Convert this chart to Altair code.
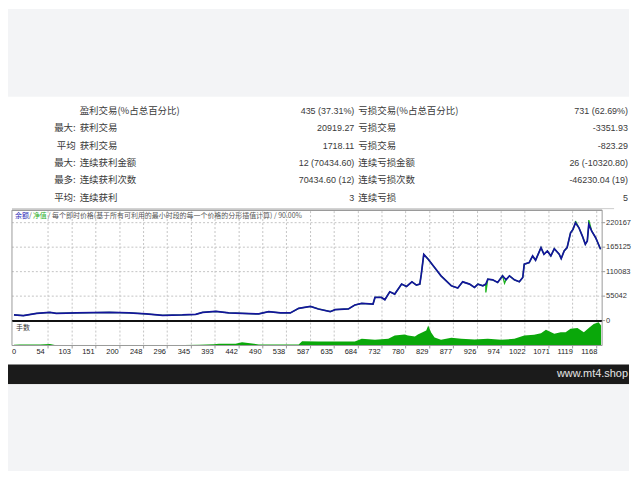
import altair as alt
import pandas as pd

CJK = "Noto Sans CJK SC"
LAT = "Liberation Sans"

# ---------------- data ----------------
row_prefix = ["", "最大:", "平均", "最大:", "最多:", "平均:"]
left_labels = ["盈利交易(%占总百分比)", "获利交易", "获利交易", "连续获利金额", "连续获利次数", "连续获利"]
left_values = ["435 (37.31%)", "20919.27", "1718.11", "12 (70434.60)", "70434.60 (12)", "3"]
right_labels = ["亏损交易(%占总百分比)", "亏损交易", "亏损交易", "连续亏损金额", "连续亏损次数", "连续亏损"]
right_values = ["731 (62.69%)", "-3351.93", "-823.29", "26 (-10320.80)", "-46230.04 (19)", "5"]

balance_t = [0, 19, 46, 73, 86, 127, 194, 234, 268, 302,
             342, 369, 383, 410, 436, 497, 517, 541, 561, 578,
             602, 618, 642, 652, 679, 692, 706, 729, 733, 746,
             753, 763, 773, 787, 797, 808, 817, 824, 827, 832,
             841, 854, 867, 888, 901, 911, 925, 935, 942, 952,
             958, 962, 972, 982, 992, 999, 1006, 1016, 1026, 1033,
             1036, 1046, 1053, 1059, 1070, 1076, 1083, 1090, 1097, 1107,
             1111, 1117, 1123, 1130, 1135, 1140, 1147, 1154, 1160, 1164,
             1167, 1173, 1181, 1191]
balance_v = [12700, 11200, 16400, 18600, 16400, 17200, 18600, 17200, 15000, 11900,
             12700, 14100, 18600, 20800, 17200, 15000, 20100, 17200, 17200, 27500,
             32000, 26200, 20100, 24600, 26200, 35100, 38700, 37300, 52100, 52100,
             47000, 64900, 59700, 82100, 76700, 87200, 79800, 82000, 104400, 149000,
             138000, 119300, 100700, 78300, 73100, 87200, 82100, 74500, 82100, 78300,
             82100, 93300, 91700, 85700, 100700, 91700, 100700, 91700, 87200, 96900,
             126800, 130400, 145400, 135800, 164000, 149200, 156600, 145400, 161700, 149200,
             139400, 156600, 164000, 197500, 205100, 220000, 208700, 190100, 171600, 179000,
             216300, 201300, 186400, 160400]

# equity (净值) differs from balance only at a few visible spikes
equity_spike_t = [958, 996, 1140, 1167]
equity_spike_v = [63300, 84000, 224000, 226000]

volume_t = [0, 12, 53, 73, 83, 93, 174, 255, 315, 376,
            406, 416, 450, 463, 497, 578, 585, 618, 692, 706,
            733, 760, 773, 793, 800, 814, 820, 837, 841, 847,
            854, 867, 888, 908, 935, 962, 989, 1016, 1036, 1056,
            1070, 1080, 1097, 1110, 1120, 1130, 1144, 1157, 1167, 1177,
            1187, 1192]
volume_v = [0.8, 1.0, 1.0, 1.5, 0.5, 0.2, 0.3, 0.5, 0.3, 0.8,
            1.2, 1.7, 1.7, 3.3, 1.0, 1.0, 4.3, 4.0, 4.0, 6.7,
            5.7, 6.7, 10, 11, 10, 9, 11, 15, 20, 13,
            8, 5.7, 7.7, 6.7, 6, 6.7, 5.7, 6.7, 10, 10.7,
            12.3, 15.7, 11.7, 13.3, 13.3, 16.7, 17.7, 13.3, 17.7, 21.7,
            23.3, 20]

x_ticks = [0, 54, 103, 151, 200, 248, 296, 345, 393, 442, 490, 538, 587,
           635, 684, 732, 780, 829, 877, 926, 974, 1022, 1071, 1119, 1168]
y_ticks = [0, 55042, 110083, 165125, 220167]

title_parts = ["余额", "/", "净值", "/ 每个即时价格(基于所有可利用的最小时段的每一个价格的分形插值计算) / 90.00%"]
volume_label = "手数"
footer_text = "www.mt4.shop"

# ---------------- layout constants ----------------
W = 624
H_TOP_GAP = 88
H_TABLE = 113
H_EQ = 112
H_VOL = 44
H_FOOT = 20
H_BOTTOM = 87
RIGHT = 597   # right frame of the chart panels (plot coords)
LEFT = 4      # left frame

X_MIN, X_MAX = -12.12, 1248.7
GRID = "#c4c4c4"
FRAME = "#9a9a9a"
GRAY_BG = "#f3f4f6"
TXT = "#3a3a3a"

one = pd.DataFrame({"k": [0]})


def fill_rect(h, color):
    return alt.Chart(one).mark_rect(color=color).encode(
        x=alt.value(0), x2=alt.value(W), y=alt.value(0), y2=alt.value(h)
    ).properties(width=W, height=h)


# ---------------- table ----------------
tbl = pd.DataFrame({
    "row": list(range(len(left_labels))),
    "prefix": row_prefix,
    "llabel": left_labels,
    "lval": left_values,
    "rlabel": right_labels,
    "rval": right_values,
})
row_scale = alt.Scale(domain=[0, 5], range=[14, 101.7])
tb = alt.Chart(tbl)
ry = alt.Y("row:Q", scale=row_scale, axis=None)
table = alt.layer(
    tb.mark_text(align="right", baseline="middle", font=CJK, fontSize=9.5, color=TXT).encode(
        x=alt.value(68), y=ry, text="prefix:N"),
    tb.mark_text(align="left", baseline="middle", font=CJK, fontSize=9.5, color=TXT).encode(
        x=alt.value(72), y=ry, text="llabel:N"),
    tb.mark_text(align="right", baseline="middle", font=LAT, fontSize=9, color=TXT).encode(
        x=alt.value(348), y=ry, text="lval:N"),
    tb.mark_text(align="left", baseline="middle", font=CJK, fontSize=9.5, color=TXT).encode(
        x=alt.value(352), y=ry, text="rlabel:N"),
    tb.mark_text(align="right", baseline="middle", font=LAT, fontSize=9, color=TXT).encode(
        x=alt.value(623), y=ry, text="rval:N"),
    alt.Chart(one).mark_rule(color="#cccccc", strokeWidth=1).encode(
        x=alt.value(LEFT), x2=alt.value(609), y=alt.value(112.5)),
).properties(width=W, height=H_TABLE)

# ---------------- scales / frames ----------------
xs = alt.Scale(domain=[X_MIN, X_MAX], nice=False, zero=False)
ys_top = alt.Scale(domain=[0, 250600], nice=False, zero=False)
ys_vol = alt.Scale(domain=[-19, 25], nice=False, zero=False)

xtick_df = pd.DataFrame({"t": x_ticks, "lab": [str(t) for t in x_ticks]})
grid_x_df = pd.DataFrame({"t": [t for t in x_ticks if t > 0]})
ytick_df = pd.DataFrame({"v": y_ticks, "lab": [str(v) for v in y_ticks]})
grid_y_df = pd.DataFrame({"v": [v for v in y_ticks if v > 0]})
bal_df = pd.DataFrame({"t": balance_t, "v": balance_v})

eq_rows = [(t, 0, v) for t, v in zip(balance_t, balance_v)] + \
          [(t, 1, v) for t, v in zip(equity_spike_t, equity_spike_v)]
eq_rows.sort(key=lambda r: (r[0], r[1]))
eq_df = pd.DataFrame({"t": [r[0] for r in eq_rows], "v": [r[2] for r in eq_rows],
                      "o": list(range(len(eq_rows)))})
vol_df = pd.DataFrame({"t": volume_t, "v": volume_v})

X = alt.X("t:Q", scale=xs, axis=None)
Y_TOP = alt.Y("v:Q", scale=ys_top, axis=None)
Y_VOL = alt.Y("v:Q", scale=ys_vol, axis=None)

# ---------------- equity panel ----------------
top_vgrid = alt.Chart(grid_x_df).mark_rule(color=GRID, strokeDash=[2, 2], strokeWidth=1, xOffset=7.5).encode(
    x=X, y=alt.value(2), y2=alt.value(H_EQ))
top_hgrid = alt.Chart(grid_y_df).mark_rule(color=GRID, strokeDash=[2, 2], strokeWidth=1).encode(
    y=Y_TOP, x=alt.value(LEFT), x2=alt.value(RIGHT))
eq_line = alt.Chart(eq_df).mark_line(color="#1db31d", strokeWidth=1.3).encode(
    x=X, y=Y_TOP, order="o:Q")
bal_line = alt.Chart(bal_df).mark_line(color="#14149c", strokeWidth=1.7).encode(x=X, y=Y_TOP)
frame_left = alt.Chart(one).mark_rule(color=FRAME, strokeWidth=1).encode(
    x=alt.value(LEFT), y=alt.value(1), y2=alt.value(H_EQ))
frame_right = alt.Chart(one).mark_rule(color=FRAME, strokeWidth=1).encode(
    x=alt.value(RIGHT), y=alt.value(1), y2=alt.value(H_EQ))
frame_top = alt.Chart(one).mark_rule(color=FRAME, strokeWidth=1.5).encode(
    x=alt.value(LEFT), x2=alt.value(RIGHT), y=alt.value(1))
y_tickmarks = alt.Chart(ytick_df).mark_rule(color=FRAME).encode(
    y=Y_TOP, x=alt.value(RIGHT), x2=alt.value(RIGHT + 3))
y_labels = alt.Chart(ytick_df).mark_text(align="left", baseline="middle", font=LAT, fontSize=7.5,
                                          color="#333").encode(
    y=Y_TOP, x=alt.value(RIGHT + 4), text="lab:N")

title_x = [7, 21, 25, 40]
title_colors = ["#2a2ab8", "#555555", "#2bb02b", "#555555"]
title_layers = [
    alt.Chart(one).mark_text(align="left", baseline="middle", font=CJK, fontSize=7, color=c).encode(
        x=alt.value(x), y=alt.value(7), text=alt.value(s))
    for s, x, c in zip(title_parts, title_x, title_colors)
]

eq_panel = alt.layer(top_vgrid, top_hgrid, eq_line, bal_line, frame_left, frame_right, frame_top,
                     y_tickmarks, y_labels, *title_layers).properties(width=W, height=H_EQ)

# ---------------- volume panel ----------------
vol_grid = alt.Chart(grid_x_df).mark_rule(color=GRID, strokeDash=[2, 2], strokeWidth=1, xOffset=7.5).encode(
    x=X, y=alt.value(2), y2=alt.value(25))
vol_area = alt.Chart(vol_df).mark_area(color="#0aa80a").encode(
    x=X, y=Y_VOL, y2=alt.datum(0))
sep = alt.Chart(one).mark_rule(color="#111111", strokeWidth=2).encode(
    x=alt.value(LEFT), x2=alt.value(RIGHT), y=alt.value(0.5))
vleft = alt.Chart(one).mark_rule(color=FRAME).encode(x=alt.value(LEFT), y=alt.value(0), y2=alt.value(25))
vright = alt.Chart(one).mark_rule(color=FRAME).encode(x=alt.value(RIGHT), y=alt.value(0), y2=alt.value(25))
vbottom = alt.Chart(one).mark_rule(color=FRAME).encode(x=alt.value(LEFT), x2=alt.value(RIGHT), y=alt.value(25))
x_tickmarks = alt.Chart(grid_x_df).mark_rule(color=FRAME, xOffset=7.5).encode(
    x=X, y=alt.value(25), y2=alt.value(28))
x_labels = alt.Chart(xtick_df).mark_text(align="center", baseline="middle", font=LAT, fontSize=7.5,
                                          color="#222").encode(
    x=X, y=alt.value(31.5), text="lab:N")
vlabel = alt.Chart(one).mark_text(align="left", baseline="middle", font=CJK, fontSize=7, color="#333").encode(
    x=alt.value(8), y=alt.value(7), text=alt.value(volume_label))

vol_panel = alt.layer(vol_grid, vol_area, sep, vleft, vright, vbottom, x_tickmarks, x_labels,
                      vlabel).properties(width=W, height=H_VOL)

# ---------------- footer ----------------
footer = alt.layer(
    fill_rect(H_FOOT, "#1b1b1b"),
    alt.Chart(one).mark_text(align="right", baseline="middle", font=LAT, fontSize=11, color="#e6e6e6").encode(
        x=alt.value(623), y=alt.value(10), text=alt.value(footer_text)),
).properties(width=W, height=H_FOOT)

chart = alt.vconcat(
    fill_rect(H_TOP_GAP, GRAY_BG),
    table,
    eq_panel,
    vol_panel,
    footer,
    fill_rect(H_BOTTOM, GRAY_BG),
    spacing=0,
    bounds="flush",
).resolve_scale(x="independent", y="independent").properties(
    padding=0, background="white"
).configure_view(strokeWidth=0)

chart.save("out.html", embed_options={"renderer": "svg", "actions": False})
